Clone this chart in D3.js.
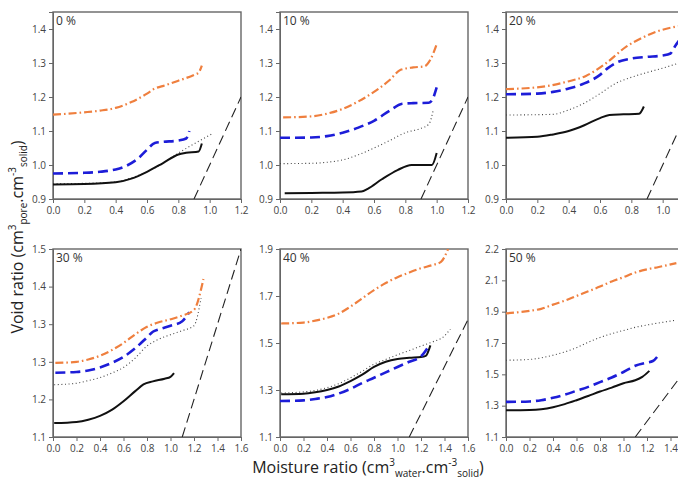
<!DOCTYPE html>
<html lang="en">
<head>
    <meta charset="UTF-8">
    <title>Void ratio vs moisture ratio</title>
    <script src="https://d3js.org/d3.v7.min.js"></script>
    <style>
        body { margin: 0; background: #fff; }
        .tick text { font: 10px "Open Sans", sans-serif; fill: #444; }
        .tick line, .domain { stroke: #666; }
        .frame { fill: none; stroke: #666; stroke-width: 1.4px; }
        .plabel { font: 12px "Open Sans", sans-serif; fill: #333; }
        .title { font: 16px "Open Sans", sans-serif; fill: #222; }
    </style>
</head>
<body>
<div id="chart"></div>
<script>
// panel labels and axis settings
const panelLabels = ["0 %", "10 %", "20 %", "30 %", "40 %", "50 %"];
const xMax = [1.2, 1.2, 1.2, 1.6, 1.6, 1.6];
const yDomains = [[0.9, 1.45], [0.9, 1.45], [0.9, 1.45], [1.1, 1.6], [1.1, 1.9], [1.1, 2.3]];
const yTickValues = [
    [0.9, 1.0, 1.1, 1.2, 1.3, 1.4],
    [0.9, 1.0, 1.1, 1.2, 1.3, 1.4],
    [0.9, 1.0, 1.1, 1.2, 1.3, 1.4],
    [1.1, 1.2, 1.3, 1.4, 1.5, 1.6],
    [1.1, 1.3, 1.5, 1.7, 1.9],
    [1.1, 1.3, 1.5, 1.7, 1.9, 2.1, 2.3]
];
// tick labels as printed on the original (some are repeated / off)
const yTickLabels = [
    ["0.9", "1.0", "1.1", "1.2", "1.3", "1.4"],
    ["0.9", "1.0", "1.1", "1.2", "1.3", "1.4"],
    ["0.9", "1.0", "1.1", "1.2", "1.3", "1.4"],
    ["1.1", "1.2", "1.3", "1.3", "1.4", "1.5"],
    ["1.1", "1.3", "1.5", "1.7", "1.9"],
    ["1.1", "1.3", "1.5", "1.7", "1.9", "2.1", "2.2"]
];

// series, one list of [moisture ratio, void ratio] per panel
const solidLine = [
    [[0,0.943],[0.2,0.944],[0.4,0.949],[0.5,0.96],[0.6,0.98],[0.7,1.005],[0.8,1.031],[0.85,1.036],[0.93,1.04],[0.95,1.063]],
    [[0.03,0.917],[0.2,0.918],[0.4,0.919],[0.52,0.922],[0.56,0.93],[0.65,0.958],[0.75,0.985],[0.84,1.0],[0.97,1.0],[1.0,1.035]],
    [[0,1.08],[0.2,1.083],[0.3,1.09],[0.4,1.1],[0.5,1.117],[0.6,1.138],[0.66,1.147],[0.75,1.149],[0.85,1.151],[0.88,1.172]],
    [[0.01,1.137],[0.2,1.14],[0.3,1.146],[0.4,1.156],[0.5,1.172],[0.6,1.195],[0.7,1.222],[0.77,1.24],[0.85,1.248],[0.95,1.255],[1.0,1.26],[1.03,1.27]],
    [[0.01,1.282],[0.2,1.284],[0.3,1.29],[0.4,1.3],[0.5,1.315],[0.6,1.338],[0.7,1.365],[0.8,1.398],[0.9,1.42],[1.0,1.432],[1.1,1.437],[1.2,1.44],[1.24,1.445],[1.28,1.49]],
    [[0,1.27],[0.2,1.272],[0.3,1.277],[0.4,1.29],[0.5,1.31],[0.6,1.335],[0.7,1.362],[0.8,1.39],[0.9,1.415],[1.0,1.443],[1.1,1.462],[1.16,1.484],[1.22,1.522]]
];
const dottedLine = [
    [[0,0.945],[0.2,0.946],[0.4,0.95],[0.5,0.962],[0.6,0.98],[0.7,1.005],[0.8,1.035],[0.9,1.062],[1.0,1.088],[1.02,1.093]],
    [[0,1.004],[0.2,1.005],[0.3,1.008],[0.4,1.015],[0.5,1.03],[0.6,1.05],[0.7,1.072],[0.8,1.095],[0.9,1.108],[0.95,1.12],[0.98,1.165]],
    [[0,1.147],[0.3,1.149],[0.4,1.162],[0.5,1.182],[0.6,1.21],[0.7,1.24],[0.8,1.258],[0.9,1.272],[1.0,1.285],[1.12,1.302]],
    [[0.01,1.239],[0.2,1.243],[0.3,1.25],[0.4,1.258],[0.5,1.27],[0.6,1.285],[0.7,1.31],[0.8,1.342],[0.9,1.36],[1.0,1.372],[1.1,1.383],[1.2,1.396],[1.26,1.47]],
    [[0.01,1.287],[0.2,1.292],[0.3,1.298],[0.4,1.31],[0.5,1.327],[0.6,1.352],[0.7,1.38],[0.8,1.41],[0.9,1.43],[1.0,1.45],[1.1,1.468],[1.2,1.487],[1.3,1.505],[1.4,1.53],[1.45,1.56]],
    [[0,1.59],[0.2,1.595],[0.3,1.605],[0.4,1.622],[0.5,1.643],[0.6,1.67],[0.7,1.705],[0.8,1.735],[0.9,1.76],[1.0,1.78],[1.1,1.8],[1.2,1.815],[1.3,1.828],[1.45,1.846]]
];
const blueLine = [
    [[0,0.975],[0.2,0.977],[0.3,0.98],[0.4,0.987],[0.47,0.998],[0.55,1.022],[0.6,1.045],[0.65,1.065],[0.7,1.068],[0.8,1.072],[0.85,1.078],[0.87,1.1]],
    [[0,1.08],[0.2,1.081],[0.3,1.085],[0.4,1.095],[0.5,1.11],[0.6,1.13],[0.7,1.16],[0.78,1.18],[0.85,1.182],[0.95,1.183],[0.97,1.19],[1.0,1.228]],
    [[0,1.208],[0.2,1.21],[0.3,1.215],[0.4,1.225],[0.5,1.24],[0.6,1.265],[0.65,1.285],[0.7,1.3],[0.8,1.313],[0.9,1.318],[1.0,1.322],[1.05,1.328],[1.08,1.35],[1.12,1.375]],
    [[0.02,1.271],[0.2,1.273],[0.3,1.277],[0.4,1.285],[0.5,1.297],[0.6,1.313],[0.7,1.336],[0.8,1.365],[0.85,1.38],[0.9,1.386],[1.0,1.396],[1.1,1.408],[1.16,1.432]],
    [[0,1.253],[0.2,1.256],[0.3,1.262],[0.4,1.27],[0.5,1.285],[0.6,1.305],[0.7,1.33],[0.8,1.352],[0.9,1.375],[1.0,1.398],[1.1,1.42],[1.2,1.443],[1.27,1.49]],
    [[0,1.324],[0.2,1.327],[0.3,1.335],[0.4,1.35],[0.5,1.37],[0.6,1.395],[0.7,1.42],[0.8,1.45],[0.9,1.48],[1.0,1.515],[1.1,1.555],[1.2,1.575],[1.25,1.585],[1.3,1.625]]
];
const orangeLine = [
    [[0,1.148],[0.1,1.151],[0.2,1.155],[0.3,1.16],[0.4,1.168],[0.5,1.185],[0.6,1.21],[0.65,1.225],[0.7,1.232],[0.8,1.248],[0.9,1.265],[0.93,1.272],[0.95,1.292]],
    [[0.02,1.14],[0.2,1.143],[0.3,1.151],[0.4,1.165],[0.5,1.187],[0.6,1.215],[0.7,1.25],[0.77,1.28],[0.85,1.287],[0.92,1.29],[0.96,1.31],[1.0,1.355]],
    [[0,1.223],[0.26,1.232],[0.39,1.245],[0.51,1.262],[0.64,1.3],[0.77,1.349],[0.86,1.372],[0.96,1.392],[1.12,1.41]],
    [[0.02,1.297],[0.2,1.3],[0.3,1.306],[0.4,1.316],[0.5,1.331],[0.6,1.35],[0.7,1.373],[0.8,1.393],[0.9,1.405],[1.0,1.413],[1.1,1.423],[1.2,1.438],[1.28,1.52]],
    [[0.01,1.583],[0.2,1.587],[0.3,1.595],[0.4,1.607],[0.5,1.625],[0.6,1.655],[0.7,1.69],[0.8,1.725],[0.9,1.755],[1.0,1.78],[1.1,1.8],[1.2,1.818],[1.3,1.832],[1.37,1.845],[1.43,1.9]],
    [[0,1.889],[0.2,1.905],[0.3,1.918],[0.4,1.945],[0.5,1.97],[0.6,2.0],[0.7,2.03],[0.8,2.06],[0.9,2.093],[1.0,2.12],[1.1,2.15],[1.2,2.17],[1.3,2.185],[1.45,2.21]]
];
// saturation line endpoints (long dashes)
const satLine = [
    [[0.9,0.9],[1.2,1.2]],
    [[0.9,0.9],[1.2,1.2]],
    [[0.9,0.9],[1.2,1.2]],
    [[1.1,1.1],[1.6,1.6]],
    [[1.1,1.1],[1.6,1.6]],
    [[1.1,1.1],[1.6,1.6]]
];

// frame positions in pixels
const colX = [[53, 241], [280, 468], [506, 694]];
const rowY = [[12, 199], [249, 437]];

const width = 678, height = 480;
const svg = d3.select("#chart").append("svg")
    .attr("width", width)
    .attr("height", height);

const styles = [
    {data: dottedLine, color: "#444", w: 1.1, dash: "1,2.6"},
    {data: solidLine, color: "#111", w: 2, dash: null},
    {data: blueLine, color: "#1d1dd8", w: 2.6, dash: "10,5"},
    {data: orangeLine, color: "#ef7f3e", w: 2.2, dash: "8,3,1.6,3"}
];

for (let i = 0; i < 6; i++) {
    const col = i % 3, row = Math.floor(i / 3);
    const x0 = colX[col][0], x1 = colX[col][1];
    const yTop = rowY[row][0], yBot = rowY[row][1];

    const x = d3.scaleLinear().domain([0, xMax[i]]).range([x0, x1]);
    const y = d3.scaleLinear().domain(yDomains[i]).range([yBot, yTop]);

    const g = svg.append("g");

    // clip to the frame
    g.append("clipPath").attr("id", "clip" + i)
        .append("rect")
        .attr("x", x0).attr("y", yTop)
        .attr("width", x1 - x0).attr("height", yBot - yTop);

    // only the ticks that fit inside the picture
    const xTicks = d3.range(0, xMax[i] + 0.001, 0.2).filter(v => x(v) < width - 4);
    const xAxis = d3.axisBottom(x)
        .tickValues(xTicks)
        .tickFormat(d3.format(".1f"))
        .tickSize(4).tickPadding(4);
    g.append("g").attr("transform", "translate(0," + yBot + ")").call(xAxis);

    const yAxis = d3.axisLeft(y)
        .tickValues(yTickValues[i])
        .tickFormat((d, k) => yTickLabels[i][k])
        .tickSize(4).tickPadding(3);
    g.append("g").attr("transform", "translate(" + x0 + ",0)").call(yAxis);

    g.append("rect").attr("class", "frame")
        .attr("x", x0).attr("y", yTop)
        .attr("width", x1 - x0).attr("height", yBot - yTop);

    const plot = g.append("g").attr("clip-path", "url(#clip" + i + ")");

    const line = d3.line()
        .x(d => x(d[0]))
        .y(d => y(d[1]))
        .curve(d3.curveMonotoneX);

    plot.append("path")
        .attr("d", d3.line().x(d => x(d[0])).y(d => y(d[1]))(satLine[i]))
        .attr("fill", "none")
        .attr("stroke", "#222")
        .attr("stroke-width", 1.1)
        .attr("stroke-dasharray", "10,5");

    styles.forEach(s => {
        plot.append("path")
            .attr("d", line(s.data[i]))
            .attr("fill", "none")
            .attr("stroke", s.color)
            .attr("stroke-width", s.w)
            .attr("stroke-dasharray", s.dash);
    });

    g.append("text").attr("class", "plabel")
        .attr("x", x0 + 3).attr("y", yTop + 13)
        .text(panelLabels[i]);
}

// y axis title
const yt = svg.append("text").attr("class", "title")
    .attr("transform", "translate(23,237) rotate(-90)")
    .attr("text-anchor", "middle");
yt.append("tspan").text("Void ratio (cm");
yt.append("tspan").attr("font-size", 10).attr("dy", -7).text("3");
yt.append("tspan").attr("font-size", 10).attr("dy", 11).text("pore");
yt.append("tspan").attr("dy", -4).text(".cm");
yt.append("tspan").attr("font-size", 10).attr("dy", -7).text("-3");
yt.append("tspan").attr("font-size", 10).attr("dy", 11).text("solid");
yt.append("tspan").attr("dy", -4).text(")");

// x axis title
const xt = svg.append("text").attr("class", "title")
    .attr("transform", "translate(368,473)")
    .attr("text-anchor", "middle");
xt.append("tspan").text("Moisture ratio (cm");
xt.append("tspan").attr("font-size", 10).attr("dy", -7).text("3");
xt.append("tspan").attr("font-size", 10).attr("dy", 11).text("water");
xt.append("tspan").attr("dy", -4).text(".cm");
xt.append("tspan").attr("font-size", 10).attr("dy", -7).text("-3");
xt.append("tspan").attr("font-size", 10).attr("dy", 11).text("solid");
xt.append("tspan").attr("dy", -4).text(")");
</script>
</body>
</html>
